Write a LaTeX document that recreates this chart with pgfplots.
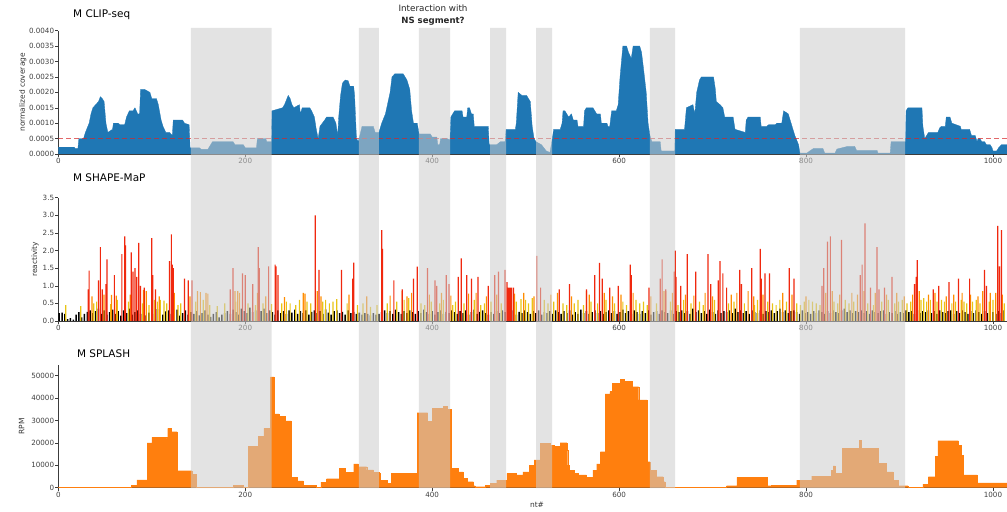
\documentclass[border=0pt]{standalone}
\usepackage{pgfplots}
\pgfplotsset{compat=1.18}
\usepackage{fontspec}
\setmainfont{DejaVu Sans}
\definecolor{clipblue}{RGB}{31,119,180}
\definecolor{splorange}{RGB}{255,127,14}
\definecolor{shred}{RGB}{240,40,14}
\definecolor{shorange}{RGB}{255,140,0}
\definecolor{shgold}{RGB}{232,196,20}
\definecolor{bandgray}{RGB}{204,204,204}
\definecolor{spine}{RGB}{60,60,60}
\definecolor{cutred}{RGB}{214,39,40}

\pgfplotsset{
 panel/.style={
  scale only axis, width=948.7bp, xmin=0, xmax=1015, ymin=0,
  anchor=south west,
  axis x line*=bottom, axis y line*=left,
  axis line style={spine, line width=0.6bp},
  xtick={0,200,400,600,800,1000},
  xticklabel style={/pgf/number format/1000 sep={}},
  tick align=outside, major tick length=3bp,
  tick style={spine, line width=0.5bp},
  ticklabel style={font=\fontsize{7.2}{8}\selectfont, text=black!75, inner sep=1bp},
  /pgf/number format/assume math mode=true,
  scaled ticks=false,
  label style={font=\fontsize{7.5}{9}\selectfont, text=black!80},
  every axis title/.style={anchor=west, font=\fontsize{10.5}{12}\selectfont, inner sep=0pt},
 },
 bars/.style={ybar, bar shift=0pt, draw=none, mark=none},
}

\begin{document}
\begin{tikzpicture}
\useasboundingbox (0,0) rectangle (1007bp,512bp);

% ---------------- CLIP-seq ----------------
\begin{axis}[panel, at={(58.3bp,358bp)}, height=123.3bp, ymax=0.004,
  ytick={0,0.0005,0.001,0.0015,0.002,0.0025,0.003,0.0035,0.004},
  yticklabel style={/pgf/number format/.cd, fixed, fixed zerofill, precision=4},
  ylabel={normalized coverage},
  ylabel style={at={(axis description cs:-0.0375,0.5)}, anchor=center},
  title={M CLIP-seq}, title style={at={(axis description cs:0.0155,1.127)}}]
\addplot[fill=clipblue, draw=clipblue, line width=0.3bp, mark=none] table {
0 0.00022
17 0.00022
18 0.00018
21 0.00018
22 0.0005
27 0.0005
29 0.0007
33 0.0010
35 0.0013
37 0.0015
40 0.0016
43 0.0017
45 0.00186
47 0.0018
49 0.0017
51 0.0010
53 0.0007
58 0.0008
59 0.0010
64 0.0010
66 0.00095
71 0.00095
73 0.0012
76 0.0014
80 0.0014
82 0.0015
85 0.0013
87 0.0013
88 0.0021
92 0.0021
95 0.00205
98 0.0020
100 0.0018
105 0.0018
107 0.0016
110 0.0011
112 0.0009
115 0.0007
119 0.0007
122 0.0006
123 0.0011
133 0.0011
135 0.0010
140 0.00095
141 0.0002
151 0.0002
153 0.00015
160 0.00015
165 0.0004
187 0.0004
189 0.0003
198 0.0003
200 0.0002
212 0.0002
213 0.0005
222 0.0005
223 0.0004
228 0.0004
228.5 0.0014
240 0.0015
242 0.0016
246 0.0019
248 0.0018
250 0.0016
252 0.0015
258 0.0016
259 0.0013
261 0.0015
269 0.0015
271 0.0014
274 0.0012
276 0.0008
278 0.0005
280 0.0009
285 0.0011
287 0.0012
294 0.0012
297 0.0010
299 0.0006
300 0.0012
302 0.0019
304 0.0023
307 0.0024
310 0.00238
312 0.0022
316 0.0022
317 0.0019
319 0.0005
321 0.0004
325 0.0009
337 0.0009
339 0.0007
343 0.0007
344 0.0008
346 0.0010
350 0.0013
355 0.0020
357 0.0025
360 0.0026
369 0.0026
371 0.0025
373 0.0024
376 0.0021
378 0.0014
380 0.0010
384 0.0010
386 0.00065
398 0.00065
400 0.00055
405 0.00055
406 0.0003
408 0.0003
409 0.0005
416 0.0005
419 0.00045
420 0.0012
424 0.0014
432 0.0014
433 0.0012
437 0.0012
438 0.0015
440 0.0015
442 0.0013
444 0.0013
445 0.0009
460 0.0009
461 0.0003
469 0.0003
473 0.0004
478 0.0004
479 0.0008
489 0.0008
490 0.0010
492 0.0020
496 0.0019
501 0.0019
505 0.0017
507 0.0009
509 0.0005
511 0.0004
517 0.0003
522 0.0001
526 0.00005
528 0.0004
530 0.0008
537 0.0008
539 0.0010
540 0.0014
542 0.0014
544 0.0013
546 0.0012
549 0.0013
551 0.0011
555 0.0011
556 0.0009
562 0.0009
563 0.0014
565 0.0015
572 0.0015
576 0.0013
580 0.0013
581 0.0010
587 0.0010
588 0.0009
590 0.0009
592 0.0014
597 0.0014
599 0.0016
601 0.0025
604 0.0035
608 0.0035
610 0.0033
613 0.0031
615 0.0035
622 0.0035
624 0.0033
626 0.0028
629 0.0020
631 0.0010
633 0.0006
635 0.0004
644 0.0004
645 0.0001
659.5 0.0001
660 0.0008
670 0.0008
672 0.0015
679 0.0016
681 0.0013
683 0.0020
686 0.0024
688 0.0025
701 0.0025
703 0.0021
704 0.0017
708 0.0016
711 0.0015
713 0.0012
722 0.0012
724 0.0008
735 0.0007
736 0.0011
738 0.0012
751 0.0012
752 0.0009
758 0.0009
760 0.00095
767 0.00095
769 0.0010
774 0.0010
776 0.0014
781 0.0013
785 0.0009
788 0.0006
792 0.0003
793.5 0.00003
801 0.00003
804 0.0001
808 0.00018
818 0.00018
820 0.00003
831 0.00003
833 0.00016
845 0.00025
852 0.00025
854 0.00012
876 0.00012
877 0.00003
890 0.00003
891 0.0004
906.5 0.0004
907 0.0014
909 0.0015
924 0.0015
925 0.0009
927 0.0005
931 0.0007
941 0.0007
943 0.00085
945 0.0009
949 0.0009
950 0.0012
954 0.0012
956 0.0010
965 0.0009
966 0.0008
975 0.0008
977 0.0006
981 0.0006
983 0.0004
984 0.0005
986 0.0005
988 0.0004
991 0.0004
993 0.0003
997 0.0003
999 0.0002
1000 0.0001
1004 0.0001
1006 0.0002
1009 0.0003
1015 0.0003
} \closedcycle;
\addplot[cutred, opacity=0.7, line width=0.6bp, dash pattern=on 5bp off 3bp, mark=none] coordinates {(0,0.0005) (1015,0.0005)};
\end{axis}

% ---------------- SHAPE-MaP ----------------
\begin{axis}[panel, at={(58.3bp,191bp)}, height=123.3bp, ymax=3.5,
  ytick={0,0.5,1,1.5,2,2.5,3,3.5},
  yticklabel style={/pgf/number format/.cd, fixed, fixed zerofill, precision=1},
  ylabel={reactivity},
  ylabel style={at={(axis description cs:-0.0246,0.5)}, anchor=center},
  title={M SHAPE-MaP}, title style={at={(axis description cs:0.0153,1.16)}}]
% low reactivity (black)
\addplot[bars, bar width=1.5bp, fill=black] coordinates {
(1,.22)(4,.24)(7,.2)(10,.05)(13,.08)(16,.04)(19,.18)(22,.25)(25,.1)(28,.2)
(31,.26)(34,.3)(37,.22)(40,.28)(43,.35)(46,.2)(49,.3)(52,.18)(55,.25)(58,.32)
(61,.2)(64,.28)(67,.15)(70,.3)(73,.22)(76,.35)(79,.18)(82,.25)(85,.3)(88,.2)
(91,.28)(94,.16)(97,.24)(100,.3)(103,.2)(106,.34)(109,.22)(112,.18)(115,.27)(118,.3)
(121,.2)(124,.25)(127,.32)(130,.15)(133,.22)(136,.3)(139,.18)(142,.25)(145,.2)(148,.28)
(151,.16)(154,.22)(157,.3)(160,.18)(163,.12)(166,.2)(169,.25)(172,.1)(175,.18)(178,.22)
(181,.28)(184,.2)(187,.32)(190,.25)(193,.18)(196,.35)(199,.28)(202,.22)(205,.38)(208,.25)
(211,.3)(214,.2)(217,.28)(220,.35)(223,.22)(226,.3)(229,.25)(232,.18)(235,.3)(238,.22)
(241,.28)(244,.2)(247,.3)(250,.24)(253,.32)(256,.2)(259,.28)(262,.22)(265,.3)(268,.18)
(271,.26)(274,.3)(277,.22)(280,.28)(283,.2)(286,.33)(289,.24)(292,.18)(295,.28)(298,.3)
(301,.22)(304,.26)(307,.18)(310,.3)(313,.22)(316,.26)(319,.2)(322,.24)(325,.18)(328,.22)
(331,.2)(334,.16)(337,.22)(340,.18)(343,.2)(346,.25)(349,.3)(352,.22)(355,.28)(358,.2)
(361,.32)(364,.25)(367,.2)(370,.28)(373,.22)(376,.3)(379,.25)(382,.2)(385,.28)(388,.22)
(391,.32)(394,.25)(397,.2)(400,.28)(403,.18)(406,.25)(409,.3)(412,.2)(415,.26)(418,.22)
(421,.3)(424,.25)(427,.2)(430,.28)(433,.22)(436,.3)(439,.18)(442,.25)(445,.32)(448,.2)
(451,.26)(454,.3)(457,.22)(460,.18)(463,.25)(466,.2)(469,.28)(472,.22)(475,.3)(478,.25)
(481,.2)(484,.22)(487,.3)(490,.18)(493,.26)(496,.22)(499,.3)(502,.25)(505,.2)(508,.28)
(511,.22)(514,.3)(517,.18)(520,.25)(523,.22)(526,.28)(529,.2)(532,.3)(535,.25)(538,.2)
(541,.28)(544,.22)(547,.3)(550,.18)(553,.25)(556,.2)(559,.32)(562,.22)(565,.28)(568,.2)
(571,.25)(574,.3)(577,.22)(580,.28)(583,.2)(586,.25)(589,.3)(592,.22)(595,.28)(598,.2)
(601,.25)(604,.32)(607,.22)(610,.28)(613,.2)(616,.3)(619,.25)(622,.2)(625,.28)(628,.22)
(631,.3)(634,.18)(637,.25)(640,.28)(643,.2)(646,.3)(649,.25)(652,.22)(655,.3)(658,.2)
(661,.28)(664,.25)(667,.3)(670,.22)(673,.28)(676,.2)(679,.35)(682,.25)(685,.3)(688,.22)
(691,.28)(694,.2)(697,.32)(700,.25)(703,.2)(706,.3)(709,.22)(712,.28)(715,.25)(718,.3)
(721,.22)(724,.35)(727,.25)(730,.3)(733,.22)(736,.28)(739,.2)(742,.3)(745,.25)(748,.22)
(751,.3)(754,.2)(757,.28)(760,.25)(763,.3)(766,.22)(769,.28)(772,.35)(775,.25)(778,.3)
(781,.22)(784,.28)(787,.3)(790,.25)(793,.2)(796,.3)(799,.22)(802,.25)(805,.2)(808,.28)
(811,.22)(814,.3)(817,.25)(820,.2)(823,.28)(826,.22)(829,.3)(832,.25)(835,.22)(838,.3)
(841,.35)(844,.25)(847,.3)(850,.22)(853,.28)(856,.25)(859,.3)(862,.22)(865,.28)(868,.2)
(871,.3)(874,.25)(877,.22)(880,.28)(883,.3)(886,.2)(889,.25)(892,.22)(895,.28)(898,.2)
(901,.25)(904,.22)(907,.3)(910,.25)(913,.28)(916,.2)(919,.3)(922,.22)(925,.28)(928,.25)
(931,.3)(934,.22)(937,.28)(940,.2)(943,.3)(946,.25)(949,.22)(952,.28)(955,.3)(958,.2)
(961,.28)(964,.22)(967,.3)(970,.25)(973,.2)(976,.28)(979,.22)(982,.3)(985,.25)(988,.2)
(991,.28)(994,.22)(997,.3)(1000,.25)(1003,.2)(1006,.28)(1009,.22)(1012,.3)
};
% medium (gold)
\addplot[bars, bar width=1.2bp, fill=shgold] coordinates {
(8,.45)(24,.42)(38,.5)(41,.55)(56,.48)(63,.6)(75,.55)(90,.5)(97,.45)(103,.6)
(106,.55)(109,.6)(113,.58)(116,.5)(128,.45)(131,.5)(147,.55)(155,.6)(162,.45)(170,.42)
(178,.5)(190,.55)(203,.5)(211,.45)(219,.5)(228,.48)(239,.5)(244,.55)(248,.5)(254,.45)
(258,.6)(266,.55)(270,.5)(283,.55)(286,.6)(290,.5)(294,.55)(298,.62)(309,.5)(320,.45)
(326,.5)(334,.4)(341,.45)(352,.5)(362,.55)(370,.6)(375,.65)(388,.5)(392,.45)(399,.55)
(408,.5)(412,.6)(422,.45)(425,.55)(434,.5)(445,.6)(452,.45)(456,.5)(463,.55)(474,.5)
(490,.55)(495,.62)(500,.6)(503,.5)(507,.65)(520,.6)(524,.5)(530,.55)(540,.5)(544,.45)
(552,.5)(556,.6)(562,.45)(570,.55)(577,.5)(586,.6)(595,.5)(604,.55)(608,.45)(618,.6)
(622,.5)(626,.55)(630,.45)(640,.5)(655,.55)(663,.45)(669,.6)(677,.5)(686,.55)(690,.45)
(702,.6)(717,.5)(723,.55)(734,.5)(745,.45)(748,.6)(759,.55)(764,.5)(768,.45)(772,.6)
(779,.55)(790,.5)(794,.45)(798,.55)(803,.6)(807,.55)(811,.5)(815,.45)(830,.55)(834,.5)
(842,.6)(846,.5)(851,.55)(866,.5)(872,.45)(881,.55)(888,.6)(895,.5)(899,.55)(903,.6)
(908,.5)(912,.55)(923,.6)(926,.65)(929,.55)(933,.6)(940,.55)(945,.6)(948,.55)(956,.5)
(960,.55)(966,.6)(969,.55)(972,.5)(978,.55)(982,.6)(986,.5)(996,.55)(1000,.6)(1012,.5)
};
% medium-high (orange)
\addplot[bars, bar width=1.2bp, fill=shorange] coordinates {
(36,.7)(49,.75)(57,.74)(62,.72)(77,.75)(91,.88)(94,.85)(108,.7)(124,.8)(141,.7)
(149,.85)(152,.82)(158,.8)(160,.78)(189,.85)(192,.85)(194,.8)(213,.8)(222,.7)(242,.68)
(262,.8)(264,.78)(277,.85)(281,.7)(311,.75)(330,.7)(355,.72)(368,.85)(373,.7)(378,.8)
(397,.75)(410,.8)(420,.72)(439,.78)(447,.8)(458,.7)(469,.75)(488,.78)(498,.8)(509,.7)
(527,.75)(534,.8)(549,.7)(565,.85)(568,.75)(584,.8)(593,.7)(602,.75)(615,.8)(634,.7)
(648,.85)(650,.85)(657,.8)(671,.75)(680,.72)(692,.8)(700,.7)(720,.75)(726,.8)(738,.85)
(744,.7)(754,.75)(775,.8)(785,.75)(800,.7)(821,.8)(828,.85)(836,.75)(849,.8)(855,.75)
(862,.85)(874,.8)(886,.75)(897,.8)(905,.7)(914,.75)(921,.85)(931,.75)(938,.8)(950,.7)
(958,.75)(967,.8)(976,.75)(984,.7)(989,.85)(997,.8)(1003,.8)(1010,.75)
};
% high (red)
\addplot[bars, bar width=1.2bp, fill=shred] coordinates {
(32,.9)(33,1.43)(43,1.15)(45,2.1)(47,.9)(51,1.05)(52,1.75)(60,1.3)(68,1.9)(71,2.4)
(72,2.15)(78,1.95)(80,1.4)(82,1.5)(84,1.25)(86,2.22)(88,1.0)(92,.95)(100,2.35)(101,1.3)
(104,.9)(119,1.7)(121,2.46)(122,1.6)(123,1.5)(135,1.2)(139,1.15)(143,1.15)(184,.9)(187,1.5)
(197,1.35)(200,1.3)(208,1.05)(214,2.1)(215,1.5)(225,1.55)(232,1.6)(233,1.55)(235,1.3)(275,3.0)
(279,1.45)(303,1.45)(315,1.2)(316,1.66)(346,2.58)(347,2.05)(359,1.15)(368,.9)(380,1.2)(384,1.54)
(395,1.5)(403,1.15)(405,1.0)(415,1.3)(418,1.05)(428,1.25)(431,1.78)(437,1.3)(442,1.2)(449,1.25)
(460,1.0)(467,1.3)(471,1.4)(478,1.45)(480,1.1)(481,.95)(482,.95)(483,.95)(484,.95)(485,.95)
(487,.95)(512,1.85)(516,.95)(536,.9)(547,1.05)(565,.9)(574,1.3)(579,1.65)(582,1.2)(590,.95)
(599,1.0)(612,1.6)(613,1.3)(632,.95)(644,1.2)(646,1.75)(650,.9)(659,1.4)(660,2.0)(661,1.25)
(666,1.0)(673,1.9)(682,1.4)(695,1.9)(698,1.05)(706,1.15)(708,1.7)(711,1.35)(715,.95)(729,1.45)
(731,1.05)(742,1.5)(751,2.05)(752,1.2)(756,1.35)(761,1.35)(782,1.5)(787,1.2)(817,1.0)(819,1.5)
(823,2.25)(826,2.4)(838,2.3)(858,1.3)(860,1.6)(863,2.77)(869,.95)(876,2.1)(878,.9)(884,.95)
(892,1.25)(916,1.05)(918,1.25)(919,1.73)(936,.9)(942,1.0)(953,1.1)(963,1.2)(975,1.2)(991,1.45)
(993,1.0)(1005,2.7)(1007,1.55)(1009,2.58)
};
\end{axis}

% ---------------- SPLASH ----------------
\begin{axis}[panel, at={(58.3bp,24.3bp)}, height=122.7bp, ymax=54800,
  ytick={0,10000,20000,30000,40000,50000},
  yticklabel style={/pgf/number format/.cd, fixed, 1000 sep={}},
  ylabel={RPM},
  ylabel style={at={(axis description cs:-0.0386,0.5)}, anchor=center},
  xlabel={nt\#},
  xlabel style={at={(axis description cs:0.5046,-0.141)}, anchor=center},
  title={M SPLASH}, title style={at={(axis description cs:0.0196,1.09)}}]
\addplot[const plot, fill=splorange, draw=splorange, line width=0.3bp, mark=none] table {
0 300
78 1000
84 3500
95 20000
100 22500
116 22000
117 26500
121 25000
127 7600
143 6000
148 300
187 1000
198 300
203 18500
214 23000
220 26500
227 49500
231 33000
236 32000
243 29800
249 4600
256 3000
262 1000
276 300
281 2500
287 4000
301 8600
307 7000
316 10600
321 9400
330 8000
337 7000
343 6400
344 3400
352 2000
356 6400
384 33500
395 29500
400 35500
412 36200
416 35000
420 8600
428 7100
433 4200
437 2700
444 900
446 450
457 1200
462 2000
469 3400
480 6400
490 5700
497 7100
504 10000
509 12400
516 19800
526 19000
531 18500
537 20100
544 16800
545 10100
547 7900
552 6400
556 5700
565 4600
572 7900
576 10600
580 16100
585 41900
590 42900
593 46600
601 48400
605 47400
614 45100
621 39200
630 11600
633 7900
640 4900
647 2700
649 300
715 900
726 4600
758 900
763 1200
790 3400
806 5200
827 7900
829 9800
831 6400
839 17600
857 21300
859 17600
877 10900
886 7100
893 3400
899 900
909 300
925 1600
931 4900
938 13900
941 21000
963 19000
966 14600
968 5700
983 2200
1015 2200
} \closedcycle;
\end{axis}

% ---------------- shaded regions over all panels ----------------
\begin{axis}[at={(58.3bp,24bp)}, anchor=south west, scale only axis, width=948.7bp, height=460bp,
  xmin=0, xmax=1015, ymin=0, ymax=1, hide axis, clip=false]
\addplot[draw=none, fill=bandgray, fill opacity=0.55, mark=none] coordinates {(141.9,0)(141.9,1)(228.3,1)(228.3,0)} \closedcycle;
\addplot[draw=none, fill=bandgray, fill opacity=0.55, mark=none] coordinates {(321.7,0)(321.7,1)(343.1,1)(343.1,0)} \closedcycle;
\addplot[draw=none, fill=bandgray, fill opacity=0.55, mark=none] coordinates {(385.9,0)(385.9,1)(419.1,1)(419.1,0)} \closedcycle;
\addplot[draw=none, fill=bandgray, fill opacity=0.55, mark=none] coordinates {(461.9,0)(461.9,1)(479.0,1)(479.0,0)} \closedcycle;
\addplot[draw=none, fill=bandgray, fill opacity=0.55, mark=none] coordinates {(511.1,0)(511.1,1)(528.2,1)(528.2,0)} \closedcycle;
\addplot[draw=none, fill=bandgray, fill opacity=0.55, mark=none] coordinates {(633.0,0)(633.0,1)(659.8,1)(659.8,0)} \closedcycle;
\addplot[draw=none, fill=bandgray, fill opacity=0.55, mark=none] coordinates {(793.5,0)(793.5,1)(905.9,1)(905.9,0)} \closedcycle;
\node[align=center, text=black!85, inner sep=0pt] at (axis description cs:0.395,1.028)
  {\fontsize{8.8}{11.5}\selectfont Interaction with\\\fontsize{8.6}{11.5}\selectfont\bfseries NS segment?};
\end{axis}
\end{tikzpicture}
\end{document}
